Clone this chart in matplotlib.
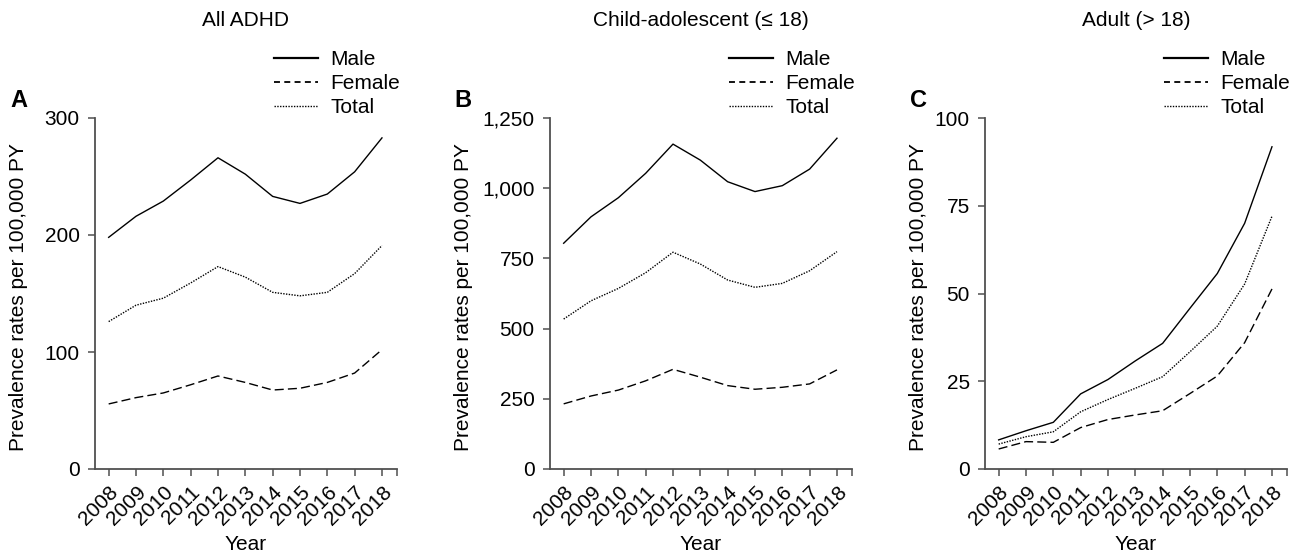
import matplotlib.pyplot as plt
from matplotlib.ticker import FuncFormatter

plt.rcParams['font.family'] = ['Liberation Sans', 'DejaVu Sans']

# Data
years = [2008, 2009, 2010, 2011, 2012, 2013, 2014, 2015, 2016, 2017, 2018]

all_male = [198, 216, 229, 247, 266, 252, 233, 227, 235, 254, 283]
all_female = [55.6, 61, 65, 72, 79.5, 74, 67.5, 69, 74, 82, 102]
all_total = [126, 140, 146, 159, 173, 164, 151, 148, 151, 167, 191]

child_male = [804, 898, 966, 1053, 1157, 1100, 1023, 988, 1009, 1068, 1178]
child_female = [232, 260, 281, 314, 355, 327, 297, 284, 291, 303, 353]
child_total = [534, 599, 643, 699, 772, 730, 673, 647, 661, 706, 774]

adult_male = [8.3, 10.9, 13.3, 21.4, 25.5, 30.8, 35.8, 45.8, 55.7, 70, 91.8]
adult_female = [5.7, 7.8, 7.6, 11.8, 14.1, 15.4, 16.6, 21.5, 26.5, 36, 51.3]
adult_total = [7.1, 9.2, 10.6, 16.3, 19.8, 23, 26.3, 33.4, 40.7, 52.7, 72]

titles = ['All ADHD', 'Child-adolescent (\u2264 18)', 'Adult (> 18)']
letters = ['A', 'B', 'C']
yticks = [[0, 100, 200, 300], [0, 250, 500, 750, 1000, 1250], [0, 25, 50, 75, 100]]
series = [(all_male, all_female, all_total),
          (child_male, child_female, child_total),
          (adult_male, adult_female, adult_total)]

W, H = 1299, 556
fig = plt.figure(figsize=(W / 100, H / 100), dpi=100)

lefts = [95, 550, 985]
label_x = [-0.252, -0.288, -0.22]
axis_col = '#505050'
fs = 15

for i in range(3):
    ax = fig.add_axes([lefts[i] / W, (H - 469) / H, 302 / W, 351 / H])
    male, female, total = series[i]
    ax.plot(years, male, color='black', lw=1.0, ls='-', label='Male')
    ax.plot(years, female, color='black', lw=1.0, ls=(0, (6.5, 3)), label='Female')
    ax.plot(years, total, color='black', lw=1.0, ls=(0, (1, 1)), label='Total')

    ax.set_xlim(2007.5, 2018.55)
    ax.set_ylim(0, yticks[i][-1])
    ax.set_xticks(years + [2018.55])
    ax.set_xticklabels([str(y) for y in years] + [''], rotation=45, ha='right',
                       va='top', rotation_mode='anchor', fontsize=fs)
    ax.set_yticks(yticks[i])
    ax.yaxis.set_major_formatter(FuncFormatter(lambda v, p: f'{int(v):,}'))
    ax.tick_params(axis='y', labelsize=fs, pad=6)
    ax.tick_params(axis='x', pad=5)
    ax.tick_params(direction='out', length=5, width=1.1, color=axis_col)
    for s in ['top', 'right']:
        ax.spines[s].set_visible(False)
    for s in ['left', 'bottom']:
        ax.spines[s].set_linewidth(1.3)
        ax.spines[s].set_color(axis_col)

    ax.text(0.5, 1.279, titles[i], transform=ax.transAxes, ha='center',
            va='center', fontsize=fs)
    ax.text(label_x[i], 1.051, letters[i], transform=ax.transAxes, ha='center',
            va='center', fontsize=17, fontweight='bold')
    ax.text(label_x[i], 0.49, 'Prevalence rates per 100,000 PY', rotation=90,
            transform=ax.transAxes, ha='center', va='center', fontsize=fs)
    ax.text(0.5, -0.2165, 'Year', transform=ax.transAxes, ha='center',
            va='center', fontsize=fs)

    leg = ax.legend(loc='upper left', bbox_to_anchor=(0.593, 1.194), frameon=False,
                    fontsize=fs, handlelength=2.1, handletextpad=0.6,
                    labelspacing=0.25, borderpad=0, borderaxespad=0)
    handles = leg.get_lines()
    handles[0].set_linewidth(1.6)
    handles[1].set_linewidth(1.3)
    handles[1].set_linestyle((0, (3.3, 2.4)))
    handles[2].set_linewidth(1.0)

fig.savefig('out.png', dpi=100)
